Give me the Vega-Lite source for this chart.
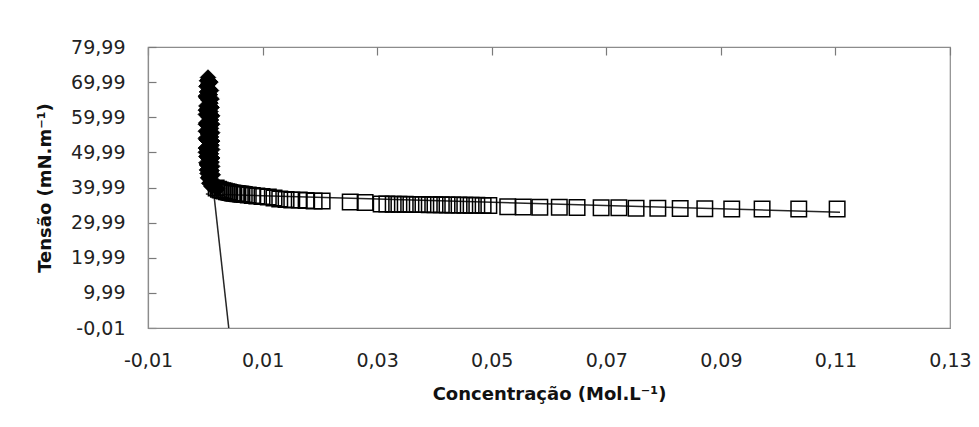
{
  "$schema": "https://vega.github.io/schema/vega-lite/v6.json",
  "width": 802,
  "height": 281,
  "autosize": {"type": "none"},
  "padding": {"left": 148, "top": 47, "right": 29, "bottom": 99},
  "background": "white",
  "config": {
    "view": {"stroke": "#8c8c8c", "strokeWidth": 1.2},
    "axis": {
      "grid": true,
      "gridColor": "#7a7a7a",
      "gridWidth": 1.2,
      "gridOpacity": 1,
      "gridDash": [8, 2000],
      "ticks": false,
      "domainColor": "#8c8c8c",
      "domainWidth": 1.2,
      "labelFont": "DejaVu Sans",
      "labelFontSize": 19,
      "labelColor": "#222222",
      "labelPadding": 23,
      "labelOverlap": false,
      "labelBound": false,
      "titleFont": "DejaVu Sans",
      "titleFontWeight": "bold",
      "titleFontSize": 18,
      "titleColor": "#111111"
    }
  },
  "datasets": {
    "pts": [
      {"x": 0.00047, "y": 71.3, "s": "A"},
      {"x": 0.0003, "y": 70.4, "s": "A"},
      {"x": 0.0006, "y": 69.6, "s": "A"},
      {"x": 0.0002, "y": 68.8, "s": "A"},
      {"x": 0.0007, "y": 68.0, "s": "A"},
      {"x": 0.0003, "y": 67.2, "s": "A"},
      {"x": 0.0008, "y": 66.4, "s": "A"},
      {"x": 0.0002, "y": 65.6, "s": "A"},
      {"x": 0.0006, "y": 64.8, "s": "A"},
      {"x": 0.0009, "y": 64.0, "s": "A"},
      {"x": 0.0002, "y": 63.2, "s": "A"},
      {"x": 0.0005, "y": 62.4, "s": "A"},
      {"x": 0.0009, "y": 61.6, "s": "A"},
      {"x": 0.0001, "y": 60.8, "s": "A"},
      {"x": 0.0006, "y": 60.0, "s": "A"},
      {"x": 0.0010, "y": 59.2, "s": "A"},
      {"x": 0.0002, "y": 58.4, "s": "A"},
      {"x": 0.0007, "y": 57.6, "s": "A"},
      {"x": 0.0010, "y": 56.8, "s": "A"},
      {"x": 0.0001, "y": 56.0, "s": "A"},
      {"x": 0.0005, "y": 55.2, "s": "A"},
      {"x": 0.0010, "y": 54.4, "s": "A"},
      {"x": 0.0002, "y": 53.6, "s": "A"},
      {"x": 0.0007, "y": 52.8, "s": "A"},
      {"x": 0.0011, "y": 52.0, "s": "A"},
      {"x": 0.0001, "y": 51.2, "s": "A"},
      {"x": 0.0005, "y": 50.4, "s": "A"},
      {"x": 0.0010, "y": 49.6, "s": "A"},
      {"x": 0.0002, "y": 48.8, "s": "A"},
      {"x": 0.0007, "y": 48.0, "s": "A"},
      {"x": 0.0011, "y": 47.2, "s": "A"},
      {"x": 0.0003, "y": 46.4, "s": "A"},
      {"x": 0.0008, "y": 45.6, "s": "A"},
      {"x": 0.0011, "y": 44.8, "s": "A"},
      {"x": 0.0004, "y": 44.0, "s": "A"},
      {"x": 0.0009, "y": 43.2, "s": "A"},
      {"x": 0.0006, "y": 42.6, "s": "A"},
      {"x": 0.0012, "y": 42.0, "s": "A"},
      {"x": 0.0009, "y": 41.4, "s": "A"},
      {"x": 0.0014, "y": 40.8, "s": "A"},
      {"x": 0.0017, "y": 40.2, "s": "A"},
      {"x": 0.0021, "y": 39.6, "s": "A"},
      {"x": 0.0009, "y": 70.0, "s": "A"},
      {"x": 0.0010, "y": 67.6, "s": "A"},
      {"x": 0.0011, "y": 65.2, "s": "A"},
      {"x": 0.0011, "y": 62.8, "s": "A"},
      {"x": 0.0012, "y": 60.4, "s": "A"},
      {"x": 0.0012, "y": 58.0, "s": "A"},
      {"x": 0.0012, "y": 55.6, "s": "A"},
      {"x": 0.0012, "y": 53.2, "s": "A"},
      {"x": 0.0012, "y": 50.8, "s": "A"},
      {"x": 0.0012, "y": 48.4, "s": "A"},
      {"x": 0.0012, "y": 46.0, "s": "A"},
      {"x": 0.0013, "y": 43.6, "s": "A"},
      {"x": 0.0001, "y": 66.0, "s": "A"},
      {"x": 0.0001, "y": 62.0, "s": "A"},
      {"x": 0.0001, "y": 58.0, "s": "A"},
      {"x": 0.0001, "y": 54.0, "s": "A"},
      {"x": 0.0001, "y": 50.0, "s": "A"},
      {"x": 0.0002, "y": 47.0, "s": "A"},
      {"x": 0.0003, "y": 45.0, "s": "A"},
      {"x": 0.0005, "y": 42.8, "s": "A"},
      {"x": 0.0007, "y": 41.2, "s": "A"},
      {"x": 0.0011, "y": 40.3, "s": "A"},
      {"x": 0.0019, "y": 39.85, "s": "B"},
      {"x": 0.0023, "y": 39.5, "s": "B"},
      {"x": 0.0026, "y": 39.28, "s": "B"},
      {"x": 0.0030, "y": 39.1, "s": "B"},
      {"x": 0.0033, "y": 39.0, "s": "B"},
      {"x": 0.0037, "y": 38.8, "s": "B"},
      {"x": 0.0040, "y": 38.7, "s": "B"},
      {"x": 0.0043, "y": 38.55, "s": "B"},
      {"x": 0.0047, "y": 38.4, "s": "B"},
      {"x": 0.0050, "y": 38.35, "s": "B"},
      {"x": 0.0054, "y": 38.28, "s": "B"},
      {"x": 0.0057, "y": 38.2, "s": "B"},
      {"x": 0.0061, "y": 38.14, "s": "B"},
      {"x": 0.0064, "y": 38.07, "s": "B"},
      {"x": 0.0068, "y": 38.0, "s": "B"},
      {"x": 0.0075, "y": 37.86, "s": "B"},
      {"x": 0.0082, "y": 37.7, "s": "B"},
      {"x": 0.0090, "y": 37.57, "s": "B"},
      {"x": 0.0099, "y": 37.43, "s": "B"},
      {"x": 0.0110, "y": 37.3, "s": "B"},
      {"x": 0.0120, "y": 37.0, "s": "B"},
      {"x": 0.0130, "y": 36.7, "s": "B"},
      {"x": 0.0141, "y": 36.57, "s": "B"},
      {"x": 0.0151, "y": 36.43, "s": "B"},
      {"x": 0.0164, "y": 36.43, "s": "B"},
      {"x": 0.0176, "y": 36.3, "s": "B"},
      {"x": 0.0190, "y": 36.15, "s": "B"},
      {"x": 0.0204, "y": 36.15, "s": "B"},
      {"x": 0.0253, "y": 35.86, "s": "B"},
      {"x": 0.0279, "y": 35.7, "s": "B"},
      {"x": 0.0307, "y": 35.3, "s": "B"},
      {"x": 0.0317, "y": 35.28, "s": "B"},
      {"x": 0.0328, "y": 35.25, "s": "B"},
      {"x": 0.0338, "y": 35.23, "s": "B"},
      {"x": 0.0349, "y": 35.2, "s": "B"},
      {"x": 0.0359, "y": 35.18, "s": "B"},
      {"x": 0.0370, "y": 35.15, "s": "B"},
      {"x": 0.0380, "y": 35.13, "s": "B"},
      {"x": 0.0391, "y": 35.1, "s": "B"},
      {"x": 0.0401, "y": 35.08, "s": "B"},
      {"x": 0.0412, "y": 35.05, "s": "B"},
      {"x": 0.0422, "y": 35.03, "s": "B"},
      {"x": 0.0432, "y": 35.0, "s": "B"},
      {"x": 0.0443, "y": 34.98, "s": "B"},
      {"x": 0.0453, "y": 34.96, "s": "B"},
      {"x": 0.0464, "y": 34.94, "s": "B"},
      {"x": 0.0474, "y": 34.92, "s": "B"},
      {"x": 0.0485, "y": 34.9, "s": "B"},
      {"x": 0.0495, "y": 34.88, "s": "B"},
      {"x": 0.0528, "y": 34.5, "s": "B"},
      {"x": 0.0555, "y": 34.45, "s": "B"},
      {"x": 0.0584, "y": 34.4, "s": "B"},
      {"x": 0.0618, "y": 34.35, "s": "B"},
      {"x": 0.0649, "y": 34.3, "s": "B"},
      {"x": 0.0691, "y": 34.2, "s": "B"},
      {"x": 0.0722, "y": 34.2, "s": "B"},
      {"x": 0.0752, "y": 34.1, "s": "B"},
      {"x": 0.0790, "y": 34.05, "s": "B"},
      {"x": 0.0829, "y": 34.0, "s": "B"},
      {"x": 0.0872, "y": 33.95, "s": "B"},
      {"x": 0.0919, "y": 33.9, "s": "B"},
      {"x": 0.0972, "y": 33.9, "s": "B"},
      {"x": 0.1036, "y": 33.88, "s": "B"},
      {"x": 0.1103, "y": 33.85, "s": "B"}
    ],
    "lines": [
      {"x": 0.0001, "y": 38.14, "l": "fit"},
      {"x": 0.1108, "y": 32.93, "l": "fit"},
      {"x": 0.0015, "y": 38.1, "l": "steep"},
      {"x": 0.0041, "y": -0.01, "l": "steep"}
    ]
  },
  "encoding": {
    "x": {
      "field": "x", "type": "quantitative",
      "scale": {"domain": [-0.01, 0.13], "nice": false, "zero": false},
      "axis": {
        "values": [-0.01, 0.01, 0.03, 0.05, 0.07, 0.09, 0.11, 0.13],
        "labelExpr": "replace(replace(format(datum.value, '.2f'), '.', ','), '\u2212', '-')",
        "title": "Concentração (Mol.L⁻¹)",
        "titleX": 401,
        "titleY": 66,
        "titleBaseline": "middle",
        "titleAlign": "center",
        "labelFlush": false,
        "labelOverlap": false
      }
    },
    "y": {
      "field": "y", "type": "quantitative",
      "scale": {"domain": [-0.01, 79.99], "nice": false, "zero": false},
      "axis": {
        "values": [-0.01, 9.99, 19.99, 29.99, 39.99, 49.99, 59.99, 69.99, 79.99],
        "labelExpr": "replace(replace(format(datum.value, '.2f'), '.', ','), '\u2212', '-')",
        "title": "Tensão (mN.m⁻¹)",
        "titleX": -103,
        "titleY": 140.5,
        "titleAngle": -90,
        "titleBaseline": "middle",
        "titleAlign": "center",
        "labelFlush": false,
        "labelOverlap": false,
        "labelBound": false
      }
    }
  },
  "layer": [
    {
      "data": {"name": "lines"},
      "mark": {"type": "line", "stroke": "#262626", "strokeWidth": 1.5, "clip": true},
      "encoding": {"detail": {"field": "l"}}
    },
    {
      "data": {"name": "pts"},
      "transform": [{"filter": "datum.s === 'A'"}],
      "mark": {"type": "point", "shape": "diamond", "filled": true, "fill": "#000000", "stroke": "#000000", "strokeWidth": 1, "size": 240, "opacity": 1}
    },
    {
      "data": {"name": "pts"},
      "transform": [{"filter": "datum.s === 'B'"}],
      "mark": {"type": "point", "shape": "square", "filled": false, "stroke": "#000000", "strokeWidth": 1.5, "size": 240, "opacity": 1}
    }
  ]
}
